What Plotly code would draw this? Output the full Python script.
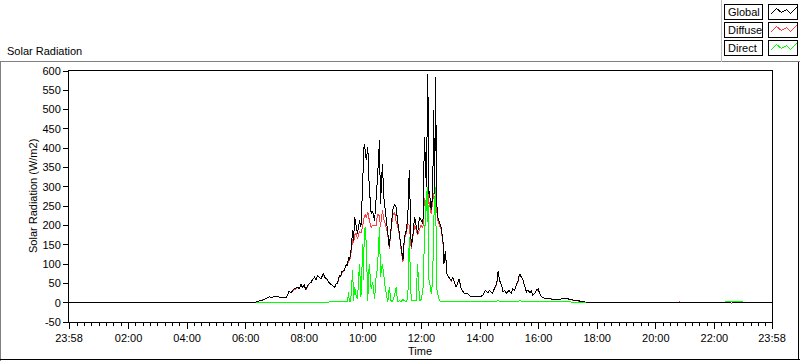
import plotly.graph_objects as go

# ---------------- data ----------------
prev_day = "2023-01-01"
day = "2023-01-02"

times = ["23:58", "00:00", "06:17", "06:21", "06:28", "06:38", "06:48", "06:55", "07:01", "07:05",
         "07:13", "07:23", "07:29", "07:33", "07:39", "07:46", "07:50", "07:53", "07:56", "08:00",
         "08:03", "08:06", "08:10", "08:14", "08:16", "08:21", "08:24", "08:27", "08:31", "08:34",
         "08:37", "08:39", "08:42", "08:45", "08:47", "08:50", "08:53", "08:57", "09:02", "09:05",
         "09:07", "09:10", "09:12", "09:14", "09:17", "09:22", "09:26", "09:28", "09:31", "09:32",
         "09:35", "09:39", "09:41", "09:43", "09:46", "09:49", "09:53", "09:56", "10:00", "10:01",
         "10:03", "10:05", "10:07", "10:10", "10:13", "10:17", "10:20", "10:24", "10:27", "10:30",
         "10:34", "10:36", "10:40", "10:43", "10:46", "10:51", "10:54", "10:58", "11:01", "11:05",
         "11:08", "11:11", "11:15", "11:18", "11:22", "11:25", "11:29", "11:32", "11:35", "11:39",
         "11:42", "11:46", "11:49", "11:52", "11:56", "11:59", "12:03", "12:06", "12:10", "12:12",
         "12:13", "12:15", "12:16", "12:20", "12:23", "12:25", "12:27", "12:29", "12:31", "12:33",
         "12:37", "12:40", "12:44", "12:46", "12:49", "12:52", "12:56", "13:01", "13:04", "13:11",
         "13:17", "13:21", "13:28", "13:35", "13:42", "13:52", "13:59", "14:06", "14:11", "14:16",
         "14:19", "14:25", "14:30", "14:34", "14:37", "14:40", "14:44", "14:47", "14:50", "14:54",
         "14:59", "15:04", "15:07", "15:11", "15:14", "15:18", "15:21", "15:25", "15:28", "15:31",
         "15:35", "15:38", "15:42", "15:45", "15:48", "15:52", "15:55", "15:59", "16:02", "16:06",
         "16:12", "16:23", "16:36", "16:50", "16:57", "17:04", "17:17", "17:31", "17:38", "17:40",
         "20:47", "20:48", "20:49", "22:22", "22:30", "22:35", "22:40", "22:58", "23:00", "23:58"]

global_rad = [0, 0, 0, 2, 5, 8, 15, 14, 17, 16,
              13, 13, 30, 26, 36, 40, 36, 49, 40, 45,
              33, 42, 50, 53, 58, 66, 60, 71, 66, 62,
              70, 77, 66, 62, 60, 53, 50, 44, 39, 48,
              49, 60, 71, 66, 80, 84, 101, 95, 118, 110,
              125, 187, 160, 222, 204, 179, 213, 196, 317, 390,
              412, 386, 369, 403, 300, 230, 238, 213, 265, 325,
              420, 256, 360, 270, 239, 179, 144, 196, 239, 256,
              248, 213, 179, 144, 110, 170, 187, 222, 343, 144,
              170, 222, 196, 179, 222, 213, 205, 429, 300, 490,
              593, 282, 290, 239, 282, 498, 282, 585, 265, 222,
              205, 196, 161, 101, 135, 75, 66, 58, 66, 40,
              62, 38, 23, 23, 15, 14, 15, 19, 32, 26,
              32, 24, 36, 49, 82, 58, 45, 28, 32, 24,
              32, 24, 36, 32, 45, 58, 75, 67, 58, 45,
              28, 32, 26, 32, 19, 24, 32, 36, 24, 15,
              12, 10, 8, 10, 12, 8, 6, 3, 0, 0,
              0, 0, 0, 0, 0, 2, 0, 0, 0, 0]

diffuse_rad = [None, None, 0, 2, 5, 8, 15, 14, 17, 16,
               13, 13, 30, 26, 33, 40, 36, 46, 40, 45,
               33, 42, 50, 53, 58, 66, 60, 71, 66, 62,
               70, 74, 66, 62, 60, 53, 50, 44, 39, 48,
               49, 57, 71, 66, 77, 84, 98, 95, 112, 108,
               120, 165, 155, 175, 180, 165, 185, 180, 200, 215,
               225, 230, 220, 235, 215, 195, 200, 200, 200, 230,
               225, 195, 240, 215, 205, 175, 140, 190, 225, 235,
               210, 200, 175, 140, 105, 165, 180, 205, 200, 140,
               165, 200, 190, 175, 190, 200, 195, 270, 255, 280,
               290, 255, 260, 230, 260, 285, 260, 290, 245, 215,
               200, 190, 155, 101, 130, 75, 66, 55, 66, 40,
               60, 38, 23, 23, 15, 14, 15, 19, 32, 26,
               32, 24, 36, 46, 78, 58, 45, 28, 32, 24,
               30, 24, 36, 32, 45, 55, 75, 67, 58, 45,
               28, 32, 26, 29, 19, 24, 32, 33, 24, 15,
               12, 10, 8, 10, 12, 8, 6, 2, -1, None,
               0, 3, 0, None, 0, -1, 0, None, None, None]

direct_rad = [None, None, None, 0, 1, 1, 1, 1, 1, 1,
              1, 1, 1, 1, 1, 1, 1, 1, 1, 1,
              1, 1, 1, 1, 1, 1, 1, 1, 1, 1,
              1, 1, 1, 1, 1, 1, 1, 1, 1, 1,
              1, 1, 1, 1, 1, 2, 2, 2, 27, 2,
              5, 84, 5, 40, 20, 10, 101, 15, 153, 60,
              190, 196, 150, 5, 101, 36, 53, 10, 66, 92,
              196, 66, 101, 60, 36, 2, 40, 2, 3, 20,
              40, 3, 5, 3, 8, 5, 3, 10, 170, 6,
              5, 6, 6, 101, 5, 8, 32, 160, 290, 210,
              300, 60, 58, 23, 58, 213, 280, 300, 40, 23,
              5, 3, 3, 3, 3, 3, 3, 3, 3, 3,
              3, 3, 3, 3, 3, 3, 3, 3, 3, 3,
              3, 3, 3, 3, 6, 3, 3, 3, 3, 3,
              3, 3, 3, 3, 3, 3, 5, 3, 3, 3,
              3, 3, 3, 3, 3, 3, 3, 3, 3, 3,
              2, 2, 2, 2, 2, 2, 1, 1, 0, None,
              None, None, None, 2, 2, 2, 2, 2, None, None]

series_names = ["Global", "Diffuse", "Direct"]
x_tick_labels = ["23:58", "02:00", "04:00", "06:00", "08:00", "10:00", "12:00",
                 "14:00", "16:00", "18:00", "20:00", "22:00", "23:58"]
y_tick_values = [-50, 0, 50, 100, 150, 200, 250, 300, 350, 400, 450, 500, 550, 600]
y_tick_labels = [str(v) for v in y_tick_values]

assert len(times) == len(global_rad) == len(diffuse_rad) == len(direct_rad)

x = [(prev_day if i == 0 else day) + " " + t for i, t in enumerate(times)]
x_tick_vals = [(prev_day if i == 0 else day) + " " + t for i, t in enumerate(x_tick_labels)]

# ---------------- styling ----------------
FONT = "Liberation Sans"
W, H = 800, 361
L, R, T, B = 69, 772, 71, 322
C_GLOBAL, C_DIFF, C_DIRECT = "#000000", "#ff3f3f", "#00ff00"


def px(v):
    return (v - L) / (R - L)


def py(v):
    return (B - v) / (B - T)


fig = go.Figure()
fig.add_trace(go.Scatter(x=x, y=diffuse_rad, mode="lines", name=series_names[1],
                         line=dict(color=C_DIFF, width=1)))
fig.add_trace(go.Scatter(x=x, y=global_rad, mode="lines", name=series_names[0],
                         line=dict(color=C_GLOBAL, width=1)))
fig.add_trace(go.Scatter(x=x, y=direct_rad, mode="lines", name=series_names[2],
                         line=dict(color=C_DIRECT, width=1)))

shapes = []
# outer frame
shapes.append(dict(type="line", xref="paper", yref="paper", x0=px(0), x1=px(800), y0=py(61.5), y1=py(61.5),
                   line=dict(color="#808080", width=1)))
shapes.append(dict(type="line", xref="paper", yref="paper", x0=px(0.5), x1=px(0.5), y0=py(61.5), y1=py(361),
                   line=dict(color="#808080", width=1)))
shapes.append(dict(type="line", xref="paper", yref="paper", x0=px(0), x1=px(800), y0=py(359.5), y1=py(359.5),
                   line=dict(color="#000000", width=1)))
shapes.append(dict(type="line", xref="paper", yref="paper", x0=px(798.5), x1=px(798.5), y0=py(61.5), y1=py(360),
                   line=dict(color="#000000", width=1)))
# legend panel edge
shapes.append(dict(type="line", xref="paper", yref="paper", x0=px(721.5), x1=px(721.5), y0=py(0), y1=py(61.5),
                   line=dict(color="#c0c0c0", width=1)))

annotations = []
row_tops = [4.5, 22.5, 40.5]
colors = [C_GLOBAL, C_DIFF, C_DIRECT]
zig_dx = [2, 8, 13, 18, 22, 28]
zig_dy = [10, 4, 8, 5, 9, 3]
for name, top, col in zip(series_names, row_tops, colors):
    shapes.append(dict(type="rect", xref="paper", yref="paper", x0=px(724.5), x1=px(762.5),
                       y0=py(top), y1=py(top + 15), line=dict(color="#000000", width=1),
                       fillcolor="white"))
    shapes.append(dict(type="rect", xref="paper", yref="paper", x0=px(768.5), x1=px(797.5),
                       y0=py(top), y1=py(top + 15), line=dict(color="#000000", width=1),
                       fillcolor="white"))
    path = " ".join(("M" if i == 0 else "L") + f"{px(768.5 + dx):.5f},{py(top + dy):.5f}"
                    for i, (dx, dy) in enumerate(zip(zig_dx, zig_dy)))
    shapes.append(dict(type="path", xref="paper", yref="paper", path=path,
                       line=dict(color=col, width=1)))
    annotations.append(dict(text=name, xref="paper", yref="paper", x=px(726), y=py(top + 7.5),
                            xanchor="left", yanchor="middle", showarrow=False,
                            font=dict(family=FONT, size=11, color="#000000")))

annotations.append(dict(text="Solar Radiation", xref="paper", yref="paper", x=px(5), y=py(51),
                        xanchor="left", yanchor="middle", showarrow=False,
                        font=dict(family=FONT, size=11, color="#000000")))
annotations.append(dict(text="Solar Radiation (W/m2)", xref="paper", yref="paper", x=px(33), y=py(196),
                        xanchor="center", yanchor="middle", textangle=-90, showarrow=False,
                        font=dict(family=FONT, size=11, color="#000000")))
annotations.append(dict(text="Time", xref="paper", yref="paper", x=px(420), y=py(351),
                        xanchor="center", yanchor="middle", showarrow=False,
                        font=dict(family=FONT, size=11, color="#000000")))

fig.update_layout(
    width=W, height=H,
    margin=dict(l=L, r=W - R, t=T, b=H - B, pad=0),
    paper_bgcolor="white", plot_bgcolor="white",
    showlegend=False,
    shapes=shapes, annotations=annotations,
    font=dict(family=FONT, size=11, color="#000000"),
    xaxis=dict(type="date", range=[x_tick_vals[0], x_tick_vals[-1]],
               tickvals=x_tick_vals, ticktext=x_tick_labels,
               ticks="outside", ticklen=6, tickcolor="#000000", tickwidth=1,
               minor=dict(ticks="outside", ticklen=3, tickcolor="#000000",
                          dtick=15 * 60 * 1000, tick0=day + " 00:00"),
               showline=True, linecolor="#000000", linewidth=1, mirror=True,
               showgrid=False, zeroline=False, automargin=False,
               tickfont=dict(family=FONT, size=11, color="#000000")),
    yaxis=dict(range=[-50, 600], tickvals=y_tick_values, ticktext=y_tick_labels,
               ticks="outside", ticklen=5, tickcolor="#000000", tickwidth=1,
               showline=True, linecolor="#000000", linewidth=1, mirror=True,
               showgrid=False, zeroline=False, automargin=False,
               tickfont=dict(family=FONT, size=11, color="#000000")),
)

post = (
    "document.body.style.margin='0';document.body.style.overflow='hidden';"
    "document.querySelectorAll('.scatterlayer path, .shapelayer path').forEach(function(p){"
    "p.style.shapeRendering='crispEdges';});"
)
fig.write_html("out.html", config={"displayModeBar": False}, post_script=post)
